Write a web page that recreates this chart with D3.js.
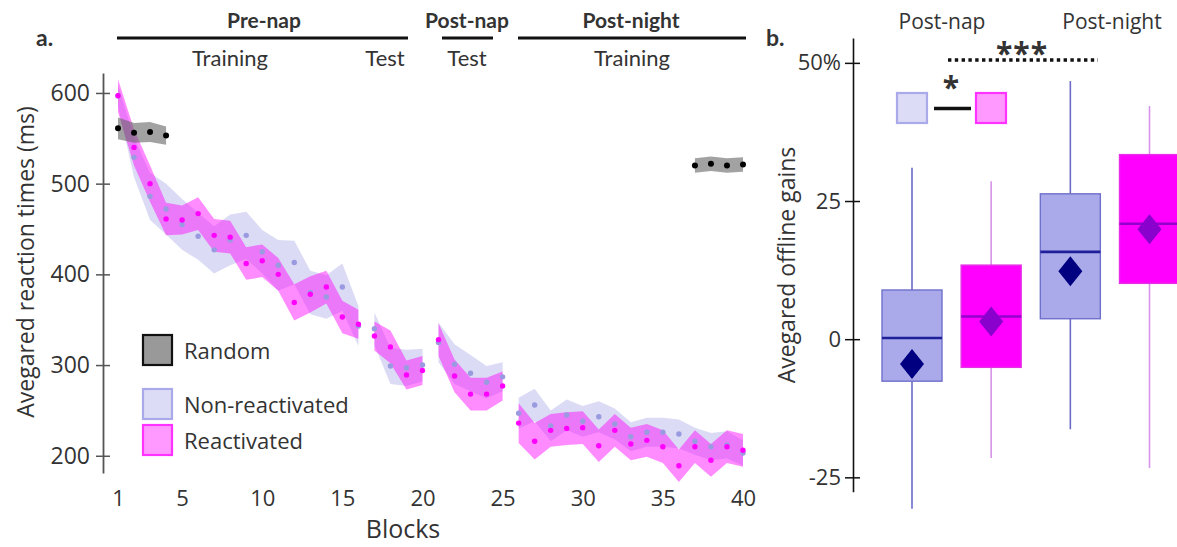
<!DOCTYPE html>
<html><head><meta charset="utf-8">
<script src="https://cdn.jsdelivr.net/npm/d3@7"></script>
<style>
body{margin:0;background:#fff}
svg{display:block}
text{font-family:"Open Sans",sans-serif;fill:#333}
.hdr{font-family:Lato,"Open Sans",sans-serif}
</style>
</head><body>
<svg id="chart" width="1177" height="547"></svg>
<script>
// ---------- Panel a data ----------
const blocks = [1,2,3,4,5,6,7,8,9,10,11,12,13,14,15,16,17,18,19,20,21,22,23,24,25,26,27,28,29,30,31,32,33,34,35,36,37,38,39,40];
const nonReactMean = [597,529,486,472,455,442,427,438,443,425,410,413,380,375,386,343,340,299,297,300,325,301,291,281,287,247,256,233,245,238,243,235,221,226,226,224,216,210,212,203];
const nonReactSem  = [12,22,26,28,28,26,26,28,26,24,28,24,24,24,26,22,18,20,20,18,22,22,20,18,16,17,18,17,17,17,17,17,16,16,16,16,15,15,15,14];
const reactMean    = [597,540,500,461,460,467,443,441,412,415,400,369,378,386,353,345,332,320,289,294,328,288,268,268,277,236,216,228,230,231,211,228,213,217,210,189,210,195,210,206];
const reactSem     = [18,20,20,18,16,18,18,18,18,18,18,20,20,18,18,16,16,18,16,16,18,18,18,18,16,22,20,18,18,18,18,18,18,18,18,18,18,18,18,18];
const randomBlocks = [1,2,3,4,37,38,39,40];
const randomMean   = [561,556,557,553,520,522,520,521];
const randomSem    = [12,11,11,10,8,8,8,8];
const sessions     = [[1,16],[17,20],[21,25],[26,40]];
const randomSessions = [[1,4],[37,40]];
const xTicks = [1,5,10,15,20,25,30,35,40];
const yTicksA = [200,300,400,500,600];

// ---------- Panel b data ----------
const boxCats   = ["Post-nap NR","Post-nap R","Post-night NR","Post-night R"];
const boxType   = ["non","re","non","re"];
const whiskLow  = [-30.7,-21.5,-16.3,-23.3];
const q1        = [-7.6,-5.1,3.7,10.1];
const median    = [0.2,4.1,15.8,20.9];
const q3        = [8.9,13.4,26.3,33.4];
const whiskHigh = [31.0,28.6,46.7,42.2];
const meanVal   = [-4.5,3.2,12.3,19.9];
const yTicksB   = [-25,0,25,50];

const svg = d3.select("#chart");

// ================= Panel a =================
const x = d3.scaleLinear().domain([1,40]).range([118,743]);
const y = d3.scaleLinear().domain([181,622]).range([473,73]);

function rows(bl, mean, sem){ return bl.map((b,i)=>({b, m:mean[i], s:sem[i]})); }
const nonRows = rows(blocks, nonReactMean, nonReactSem);
const reRows  = rows(blocks, reactMean, reactSem);
const rndRows = rows(randomBlocks, randomMean, randomSem);

const area = d3.area().x(d=>x(d.b)).y0(d=>y(d.m - d.s)).y1(d=>y(d.m + d.s));

const gA = svg.append("g");
function bands(data, segs, fill){
  segs.forEach(([a,b])=>{
    gA.append("path").datum(data.filter(d=>d.b>=a && d.b<=b))
      .attr("d", area).attr("fill", fill);
  });
}
bands(nonRows, sessions, "rgba(170,170,232,0.42)");
bands(reRows, sessions, "rgba(255,0,255,0.45)");

gA.selectAll(".dn").data(nonRows).join("circle")
  .attr("cx",d=>x(d.b)).attr("cy",d=>y(d.m)).attr("r",2.7).attr("fill","#9a9ae0");
gA.selectAll(".dr").data(reRows).join("circle")
  .attr("cx",d=>x(d.b)).attr("cy",d=>y(d.m)).attr("r",2.7).attr("fill","#ff00ff");

bands(rndRows, randomSessions, "rgba(100,100,100,0.6)");
gA.selectAll(".dk").data(rndRows).join("circle")
  .attr("cx",d=>x(d.b)).attr("cy",d=>y(d.m)).attr("r",3).attr("fill","#000");

// y axis
const ayA = svg.append("g").attr("transform","translate(103,0)")
  .call(d3.axisLeft(y).tickValues(yTicksA).tickSize(7).tickSizeOuter(0).tickPadding(6));
ayA.select(".domain").attr("stroke","#555").attr("stroke-width",1.8);
ayA.selectAll(".tick line").attr("x1",-7).attr("x2",7).attr("stroke","#555").attr("stroke-width",1.5);
ayA.selectAll(".tick text").attr("font-size",23).attr("fill","#333").style("font-family","'Open Sans',sans-serif");

// x axis (labels only)
const axA = svg.append("g").attr("transform","translate(0,484)")
  .call(d3.axisBottom(x).tickValues(xTicks).tickSize(0).tickPadding(6));
axA.select(".domain").remove();
axA.selectAll(".tick text").attr("font-size",22).attr("fill","#333").style("font-family","'Open Sans',sans-serif");

svg.append("text").attr("x",403).attr("y",538).attr("text-anchor","middle")
  .attr("font-size",25).text("Blocks");
svg.append("text").attr("transform","translate(34,262) rotate(-90)").attr("text-anchor","middle")
  .attr("font-size",23).text("Avegared reaction times (ms)");

// legend
const leg = [
  {t:"Random", y:335, fill:"#999", stroke:"#111"},
  {t:"Non-reactivated", y:389, fill:"#dcdcf6", stroke:"#aaaaea"},
  {t:"Reactivated", y:425, fill:"#ff99ff", stroke:"#ff33ff"}
];
leg.forEach(l=>{
  svg.append("rect").attr("x",143).attr("y",l.y).attr("width",29).attr("height",30)
    .attr("fill",l.fill).attr("stroke",l.stroke).attr("stroke-width",2.2);
  svg.append("text").attr("x",184).attr("y",l.y+24).attr("font-size",22).text(l.t);
});

// header
svg.append("text").attr("class","hdr").attr("x",36).attr("y",46).attr("font-size",23).attr("font-weight","bold").attr("fill","#111").text("a.");
const hdrs = [
  {t:"Pre-nap", x0:117, x1:408},
  {t:"Post-nap", x0:442, x1:493},
  {t:"Post-night", x0:518, x1:746}
];
hdrs.forEach(h=>{
  svg.append("line").attr("x1",h.x0).attr("x2",h.x1).attr("y1",38).attr("y2",38).attr("stroke","#111").attr("stroke-width",3);
});
svg.append("text").attr("class","hdr").attr("x",264).attr("y",28).attr("text-anchor","middle").attr("font-size",21).attr("font-weight","bold").attr("fill","#111").text("Pre-nap");
svg.append("text").attr("class","hdr").attr("x",467).attr("y",28).attr("text-anchor","middle").attr("font-size",21).attr("font-weight","bold").attr("fill","#111").text("Post-nap");
svg.append("text").attr("class","hdr").attr("x",631).attr("y",28).attr("text-anchor","middle").attr("font-size",21).attr("font-weight","bold").attr("fill","#111").text("Post-night");
[["Training",230],["Test",385],["Test",467],["Training",632]].forEach(([t,cx])=>{
  svg.append("text").attr("class","hdr").attr("x",cx).attr("y",66).attr("text-anchor","middle").attr("font-size",22).text(t);
});

// ================= Panel b =================
const xb = d3.scalePoint().domain(boxCats).range([912,1149.5]);
const yb = d3.scaleLinear().domain([-27.6,54.5]).range([491.7,38]);
const bw = 60;
const style = {
  non:{fill:"#aaaaeb", stroke:"#6f6fcc", med:"#1f1f99", wh:"#6b6bc8", dia:"#000080"},
  re:{fill:"#ff00ff", stroke:"#e62ee6", med:"#9400cc", wh:"#d894ea", dia:"#8a00cc"}
};
const gB = svg.append("g");
boxCats.forEach((c,i)=>{
  const s = style[boxType[i]], cx = xb(c);
  gB.append("line").attr("x1",cx).attr("x2",cx).attr("y1",yb(whiskHigh[i])).attr("y2",yb(q3[i]))
    .attr("stroke",s.wh).attr("stroke-width",1.6);
  gB.append("line").attr("x1",cx).attr("x2",cx).attr("y1",yb(q1[i])).attr("y2",yb(whiskLow[i]))
    .attr("stroke",s.wh).attr("stroke-width",1.6);
  gB.append("rect").attr("x",cx-bw/2).attr("y",yb(q3[i])).attr("width",bw).attr("height",yb(q1[i])-yb(q3[i]))
    .attr("fill",s.fill).attr("stroke",s.stroke).attr("stroke-width",1.4);
  gB.append("line").attr("x1",cx-bw/2).attr("x2",cx+bw/2).attr("y1",yb(median[i])).attr("y2",yb(median[i]))
    .attr("stroke",s.med).attr("stroke-width",2.6);
  const my = yb(meanVal[i]);
  gB.append("path").attr("d",`M${cx},${my-15}L${cx+12},${my}L${cx},${my+15}L${cx-12},${my}Z`).attr("fill",s.dia);
});

const ayB = svg.append("g").attr("transform","translate(853,0)")
  .call(d3.axisLeft(yb).tickValues(yTicksB).tickSize(8).tickSizeOuter(0).tickPadding(4)
    .tickFormat(d=> d===50 ? "50%" : String(d)));
ayB.select(".domain").attr("stroke","#111").attr("stroke-width",1.6);
ayB.selectAll(".tick line").attr("x1",-8).attr("x2",7).attr("stroke","#111").attr("stroke-width",1.5);
ayB.selectAll(".tick text").attr("font-size",22).attr("fill","#333").style("font-family","'Open Sans',sans-serif");

svg.append("text").attr("transform","translate(795,265) rotate(-90)").attr("text-anchor","middle")
  .attr("font-size",23).text("Avegared offline gains");
svg.append("text").attr("class","hdr").attr("x",766).attr("y",46).attr("font-size",23).attr("font-weight","bold").attr("fill","#111").text("b.");
svg.append("text").attr("x",942).attr("y",29).attr("text-anchor","middle").attr("font-size",21).text("Post-nap");
svg.append("text").attr("x",1112).attr("y",29).attr("text-anchor","middle").attr("font-size",21).text("Post-night");

// significance
svg.append("line").attr("x1",948).attr("x2",1098).attr("y1",60).attr("y2",60)
  .attr("stroke","#111").attr("stroke-width",3.5).attr("stroke-dasharray","3.4,3.4");
svg.append("text").attr("x",1022).attr("y",64).attr("text-anchor","middle").attr("font-size",30)
  .attr("font-weight","bold").attr("letter-spacing",1).attr("fill","#111").text("***");
svg.append("text").attr("x",951).attr("y",98).attr("text-anchor","middle").attr("font-size",30)
  .attr("font-weight","bold").attr("fill","#111").text("*");
svg.append("line").attr("x1",934).attr("x2",971).attr("y1",108.5).attr("y2",108.5).attr("stroke","#111").attr("stroke-width",3.5);
svg.append("rect").attr("x",897).attr("y",93).attr("width",30).attr("height",30).attr("fill","#dcdcf6").attr("stroke","#aaaaea").attr("stroke-width",2.2);
svg.append("rect").attr("x",976).attr("y",93).attr("width",30).attr("height",30).attr("fill","#ff99ff").attr("stroke","#ff33ff").attr("stroke-width",2.2);
</script>
</body></html>
